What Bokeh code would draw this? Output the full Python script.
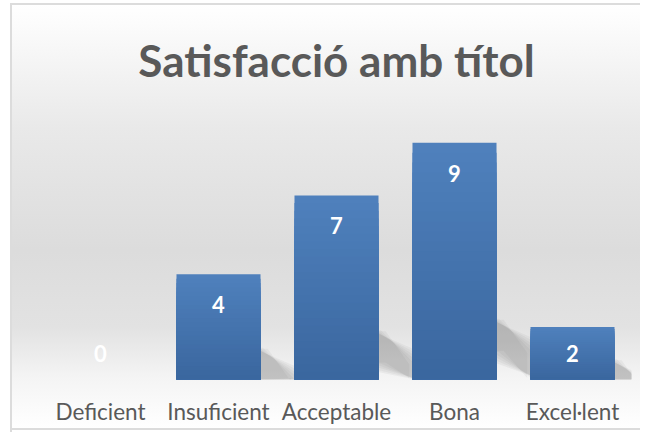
from bokeh.plotting import figure
from bokeh.models import ColumnDataSource, Range1d, FixedTicker
from bokeh.core.properties import value
from bokeh.embed import file_html
from bokeh.resources import INLINE

categories = ["Deficient", "Insuficient", "Acceptable", "Bona", "Excel·lent"]
counts = [0, 4, 7, 9, 2]
title_text = "Satisfacció amb títol"

TOP_C = (0x4f, 0x81, 0xbd)
BOT_C = (0x3a, 0x66, 0x9e)
K = 24
BAR_W = 0.712
xs = [i + 0.5 for i in range(len(categories))]


def mix(t):
    # t = 0 at bar bottom, 1 at bar top
    return "#%02x%02x%02x" % tuple(int(round(b + (a - b) * t)) for a, b in zip(TOP_C, BOT_C))


# gradient bars: nested rects from full height down, each covering the lower part
sx, stop, scol = [], [], []
for j in range(K):
    frac = (K - j) / K
    for x, v in zip(xs, counts):
        if v <= 0:
            continue
        sx.append(x)
        stop.append(v * frac)
        scol.append(mix(frac - 0.5 / K))
bars = ColumnDataSource(dict(x=sx, top=stop, col=scol))

# soft diagonal shadows to the right of the bars (layered translucent bands)
shx, shy = [], []
hw = BAR_W / 2
s = 0.32
for d in [0.16, 0.11, 0.06, 0.02, -0.02, -0.06]:
    for x, v in zip(xs, counts):
        if v <= 0:
            continue
        r = x + hw
        te = 0.22 * v + 0.35
        shx.append([r - 0.3, r - d, r + s + d, r + s + d, r - d, r - 0.3])
        shy.append([te + d, te + d, te - 1.25 + d, -d, te - 1.3 - d, te - 1.3 - d])
shadows = ColumnDataSource(dict(xs=shx, ys=shy))

label_y = [max(v - 1.15, 1.0) for v in counts]
src = ColumnDataSource(dict(x=xs, val=counts, ly=label_y,
                            txt=[str(v) for v in counts]))

p = figure(x_range=Range1d(0, len(categories)), y_range=Range1d(0, 10),
           width=640, height=432, output_backend="svg", toolbar_location=None,
           min_border_left=41, min_border_right=9, min_border_top=116,
           min_border_bottom=53)
p.background_fill_alpha = 0
p.border_fill_alpha = 0
p.outline_line_color = None
line = "linear-gradient(#dcdcdc, #dcdcdc)"
p.styles = {
    "background-color": "#ffffff",
    "background-image": ", ".join([
        line, line, line,
        "linear-gradient(to bottom, #ffffff 0%, #e9e9e9 29%, #dcdcdc 58%, "
        "#e2e2e2 76%, #f4f4f4 88%, #ffffff 100%)"]),
    "background-position": "10px 3px, 10px 3px, 10px 428px, 12px 5px",
    "background-size": "100% 2px, 2px 436px, 100% 2px, 100% 423px",
    "background-repeat": "no-repeat",
}

p.title.text = title_text
p.title.align = "center"
p.title.text_font = "Lato"
p.title.text_font_size = "44px"
p.title.text_font_style = "bold"
p.title.text_color = "#595959"
p.title.standoff = 61

p.patches(xs="xs", ys="ys", source=shadows, fill_color="#5a5a5a",
          fill_alpha=0.06, line_color=None)
p.vbar(x="x", top="top", bottom=0, width=BAR_W, source=bars,
       fill_color="col", line_color=None)
p.text(x="x", y="ly", text="txt", source=src, text_align="center",
       text_baseline="middle", text_color="white", text_font=value("Lato"),
       text_font_size="22px", text_font_style="bold")

p.yaxis.visible = False
p.xaxis.ticker = FixedTicker(ticks=xs)
p.xaxis.major_label_overrides = {x: c for x, c in zip(xs, categories)}
p.xaxis.axis_line_color = None
p.xaxis.major_tick_line_color = None
p.xaxis.minor_tick_line_color = None
p.xaxis.major_label_text_font = "Lato"
p.xaxis.major_label_text_font_size = "22.5px"
p.xaxis.major_label_text_color = "#595959"
p.xaxis.major_label_standoff = 12
p.xgrid.grid_line_color = None
p.ygrid.grid_line_color = None

open("out.html", "w").write(file_html(p, INLINE))
